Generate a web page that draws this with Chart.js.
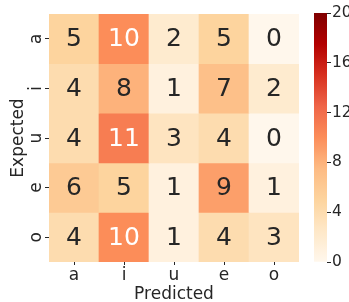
<!DOCTYPE html>
<html>
<head>
<meta charset="utf-8">
<script src="https://cdn.jsdelivr.net/npm/chart.js@4"></script>
<style>
  html, body { margin: 0; padding: 0; background: #fff; overflow: hidden; }
  body { width: 349px; height: 302px; position: relative; }
  #main { position: absolute; left: 0; top: 0; }
  #cbar { position: absolute; left: 300px; top: 0; }
</style>
</head>
<body>
<canvas id="main" width="349" height="302"></canvas>
<canvas id="cbar" width="80" height="302"></canvas>
<script>
// ---- data ----
const predictedLabels = ['a', 'i', 'u', 'e', 'o'];
const expectedLabels = ['a', 'i', 'u', 'e', 'o'];
const rowA = [5, 10, 2, 5, 0];
const rowI = [4, 8, 1, 7, 2];
const rowU = [4, 11, 3, 4, 0];
const rowE = [6, 5, 1, 9, 1];
const rowO = [4, 10, 1, 4, 3];
const colorbarTicks = [0, 4, 8, 12, 16, 20];
const vmin = 0, vmax = 20;

const matrix = [rowA, rowI, rowU, rowE, rowO];

// OrRd colormap
const orrd = ['#fff7ec','#fee8c8','#fdd49e','#fdbb84','#fc8d59','#ef6548','#d7301f','#b30000','#7f0000'];
function hexToRgb(h) { return [parseInt(h.slice(1,3),16), parseInt(h.slice(3,5),16), parseInt(h.slice(5,7),16)]; }
const orrdRgb = orrd.map(hexToRgb);
function cmap(v) {
  let t = (v - vmin) / (vmax - vmin);
  t = Math.max(0, Math.min(1, t));
  const p = t * (orrdRgb.length - 1);
  const i = Math.min(Math.floor(p), orrdRgb.length - 2);
  const f = p - i;
  const a = orrdRgb[i], b = orrdRgb[i + 1];
  return [0,1,2].map(k => Math.round(a[k] + (b[k] - a[k]) * f));
}
function rgbStr(c) { return 'rgb(' + c.join(',') + ')'; }
function luminance(c) {
  const lin = c.map(x => { x /= 255; return x <= 0.03928 ? x / 12.92 : Math.pow((x + 0.055) / 1.055, 2.4); });
  return 0.2126 * lin[0] + 0.7152 * lin[1] + 0.0722 * lin[2];
}

const FONT = "'DejaVu Sans', sans-serif";
const TXT = '#262626';

const datasets = matrix.map((row, r) => ({
  label: expectedLabels[r],
  data: row.map(() => [r, r + 1]),
  values: row,
  backgroundColor: row.map(v => rgbStr(cmap(v))),
  borderWidth: 0,
  borderSkipped: false,
  grouped: false,
  barPercentage: 1,
  categoryPercentage: 1
}));

const annotatePlugin = {
  id: 'annotate',
  afterDatasetsDraw(chart) {
    const ctx = chart.ctx;
    ctx.save();
    ctx.font = '25px ' + FONT;
    ctx.textAlign = 'center';
    ctx.textBaseline = 'middle';
    chart.data.datasets.forEach((ds, i) => {
      const meta = chart.getDatasetMeta(i);
      meta.data.forEach((el, j) => {
        const v = ds.values[j];
        const c = cmap(v);
        ctx.fillStyle = luminance(c) > 0.408 ? TXT : '#ffffff';
        const cy = (el.y + el.base) / 2;
        ctx.fillText(String(v), el.x, cy + 1);
      });
    });
    ctx.restore();
  }
};

const yLabelPlugin = {
  id: 'ylabels',
  afterDraw(chart) {
    const s = chart.scales.y;
    const ctx = chart.ctx;
    ctx.save();
    ctx.font = '17px ' + FONT;
    ctx.fillStyle = TXT;
    ctx.textAlign = 'center';
    ctx.textBaseline = 'middle';
    s.ticks.forEach((t, i) => {
      const py = s.getPixelForValue(t.value);
      ctx.save();
      ctx.translate(37, py);
      ctx.rotate(-Math.PI / 2);
      ctx.fillText(expectedLabels[i], 0, 0);
      ctx.restore();
    });
    ctx.restore();
  }
};

new Chart(document.getElementById('main'), {
  type: 'bar',
  data: { labels: predictedLabels, datasets },
  options: {
    responsive: false,
    animation: false,
    layout: { padding: { top: 14, right: 50, bottom: 0, left: 0 } },
    plugins: { legend: { display: false }, tooltip: { enabled: false } },
    scales: {
      x: {
        type: 'category',
        offset: true,
        grid: { display: true, offset: false, drawOnChartArea: false, drawTicks: true, tickLength: 3, color: TXT, lineWidth: 1 },
        border: { display: false },
        ticks: { font: { family: FONT, size: 17 }, color: TXT, padding: 0, maxRotation: 0, minRotation: 0 },
        title: { display: true, text: 'Predicted', font: { family: FONT, size: 17 }, color: TXT, padding: { top: 0, bottom: -3 } },
        afterFit(s) { s.height = 40; }
      },
      y: {
        type: 'linear',
        min: 0, max: 5, reverse: true,
        afterBuildTicks(axis) { axis.ticks = expectedLabels.map((_, i) => ({ value: i + 0.5 })); },
        grid: { display: true, drawOnChartArea: false, drawTicks: true, tickLength: 4, color: TXT, lineWidth: 1 },
        border: { display: false },
        ticks: { color: 'rgba(0,0,0,0)', font: { family: FONT, size: 17 }, callback: (v, i) => expectedLabels[i] },
        title: { display: true, text: 'Expected', font: { family: FONT, size: 17 }, color: TXT, padding: { top: 8, bottom: 0 } },
        afterFit(s) { s.width = 49; }
      }
    }
  },
  plugins: [annotatePlugin, yLabelPlugin]
});

new Chart(document.getElementById('cbar'), {
  type: 'bar',
  data: {
    labels: [''],
    datasets: [{
      data: [[vmin, vmax]],
      borderWidth: 0,
      borderSkipped: false,
      barPercentage: 1,
      categoryPercentage: 1,
      backgroundColor(ctx) {
        const chart = ctx.chart;
        const y = chart.scales && chart.scales.y;
        if (!y || !chart.chartArea) return 'rgba(0,0,0,0)';
        const g = chart.ctx.createLinearGradient(0, y.getPixelForValue(vmin), 0, y.getPixelForValue(vmax));
        for (let k = 0; k <= 40; k++) {
          const v = vmin + (vmax - vmin) * k / 40;
          g.addColorStop(k / 40, rgbStr(cmap(v)));
        }
        return g;
      }
    }]
  },
  options: {
    responsive: false,
    animation: false,
    layout: { padding: { top: 13, right: 0, bottom: 40, left: 14 } },
    plugins: { legend: { display: false }, tooltip: { enabled: false } },
    scales: {
      x: { display: false },
      y: {
        type: 'linear',
        position: 'right',
        min: vmin, max: vmax,
        afterBuildTicks(axis) { axis.ticks = colorbarTicks.map(v => ({ value: v })); },
        grid: { display: true, drawOnChartArea: false, drawTicks: true, tickLength: 4, color: TXT, lineWidth: 1 },
        border: { display: false },
        ticks: { font: { family: FONT, size: 15.5 }, color: TXT, padding: 1 },
        afterFit(s) { s.width = 53; }
      }
    }
  }
});
</script>
</body>
</html>
